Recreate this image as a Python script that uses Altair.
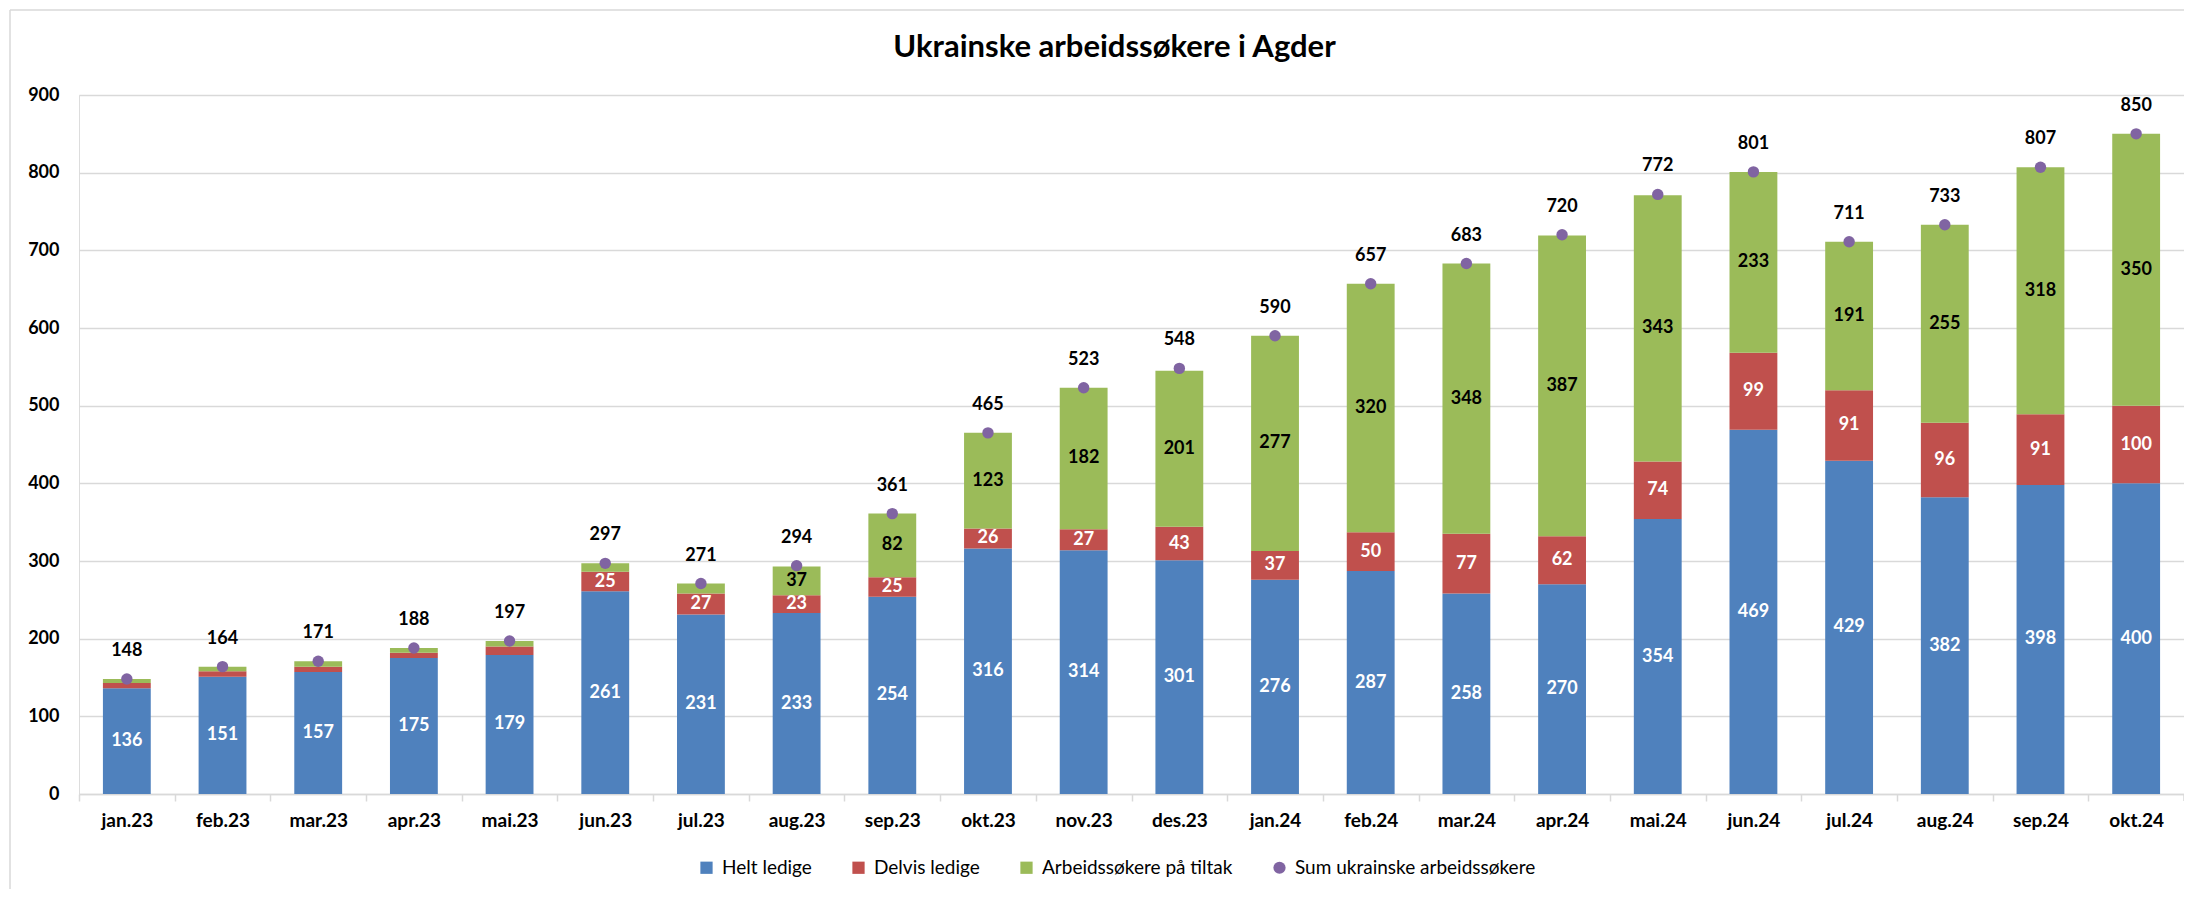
import altair as alt
import pandas as pd

months = ["jan.23", "feb.23", "mar.23", "apr.23", "mai.23", "jun.23", "jul.23", "aug.23",
          "sep.23", "okt.23", "nov.23", "des.23", "jan.24", "feb.24", "mar.24", "apr.24",
          "mai.24", "jun.24", "jul.24", "aug.24", "sep.24", "okt.24"]
helt_ledige = [136, 151, 157, 175, 179, 261, 231, 233, 254, 316, 314, 301, 276, 287, 258, 270,
               354, 469, 429, 382, 398, 400]
delvis_ledige = [7, 7, 7, 7, 11, 25, 27, 23, 25, 26, 27, 43, 37, 50, 77, 62, 74, 99, 91, 96, 91, 100]
tiltak = [5, 6, 7, 6, 7, 11, 13, 37, 82, 123, 182, 201, 277, 320, 348, 387, 343, 233, 191, 255,
          318, 350]
sum_total = [148, 164, 171, 188, 197, 297, 271, 294, 361, 465, 523, 548, 590, 657, 683, 720,
             772, 801, 711, 733, 807, 850]

series_names = ["Helt ledige", "Delvis ledige", "Arbeidssøkere på tiltak",
                "Sum ukrainske arbeidssøkere"]
colors = ["#4F81BD", "#C0504D", "#9BBB59", "#8064A2"]

rows = []
for i, m in enumerate(months):
    base = 0
    for k, (name, vals) in enumerate(zip(series_names[:3], [helt_ledige, delvis_ledige, tiltak])):
        v = vals[i]
        rows.append({"month": m, "series": name, "value": v, "order": k,
                     "mid": base + v / 2})
        base += v
seg = pd.DataFrame(rows)
tot = pd.DataFrame({"month": months, "total": sum_total,
                    "series": [series_names[3]] * len(months)})

W, H = 2105, 699
step = W / 22.0
FONT = "Lato"
GRID = "#D9D9D9"

x_enc = alt.X("month:N", sort=months, title=None,
              scale=alt.Scale(paddingInner=0.5, paddingOuter=0.25),
              axis=alt.Axis(labelFont=FONT, labelFontWeight="bold", labelFontSize=19,
                            labelColor="#000000", labelAngle=0, labelPadding=10,
                            domainColor=GRID, domainWidth=1.5, tickColor=GRID,
                            tickWidth=1.5, tickSize=7, bandPosition=0.5,
                            tickOffset=-step / 2, labelOffset=step / 2, grid=False))
y_scale = alt.Scale(domain=[0, 900], nice=False)
y_axis = alt.Axis(values=list(range(0, 901, 100)), labelFont=FONT, labelFontWeight="bold",
                  labelFontSize=18, labelColor="#000000", labelPadding=20, domain=False,
                  ticks=False, grid=True, gridColor=GRID, gridWidth=1.5)

color_scale = alt.Scale(domain=series_names, range=colors)
shape_scale = alt.Scale(domain=series_names, range=["square", "square", "square", "circle"])
legend = alt.Legend(title=None, orient="none", direction="horizontal", legendX=618,
                    legendY=763, labelFont=FONT, labelFontSize=19, labelColor="#000000",
                    symbolSize=150, symbolStrokeWidth=0, columnPadding=37, labelOffset=6,
                    padding=0, labelLimit=0)

bars = alt.Chart(seg).mark_bar().encode(
    x=x_enc,
    y=alt.Y("value:Q", stack="zero", scale=y_scale, axis=y_axis, title=None),
    order=alt.Order("order:Q"),
    color=alt.Color("series:N", scale=color_scale, legend=legend),
)

seg_labels = alt.Chart(seg).mark_text(font=FONT, fontWeight="bold", fontSize=18,
                                      baseline="middle").encode(
    x=alt.X("month:N", sort=months),
    y=alt.Y("mid:Q"),
    text=alt.Text("value:Q"),
    color=alt.condition(alt.datum.series == "Arbeidssøkere på tiltak",
                        alt.value("#000000"), alt.value("#FFFFFF")),
).transform_filter(alt.datum.value >= 20)

points = alt.Chart(tot).mark_point(filled=True, opacity=1, size=130).encode(
    x=alt.X("month:N", sort=months),
    y=alt.Y("total:Q"),
    color=alt.Color("series:N", scale=color_scale, legend=legend),
    shape=alt.Shape("series:N", scale=shape_scale, legend=legend),
)

tot_labels = alt.Chart(tot).mark_text(font=FONT, fontWeight="bold", fontSize=18,
                                      baseline="middle", dy=-28, color="#000000").encode(
    x=alt.X("month:N", sort=months),
    y=alt.Y("total:Q"),
    text=alt.Text("total:Q"),
)

one = pd.DataFrame({"a": [0]})
end_tick = alt.Chart(one).mark_rule(color=GRID, strokeWidth=1.5).encode(
    x=alt.value(W), y=alt.value(H), y2=alt.value(H + 7))
frame_left = alt.Chart(one).mark_rule(color=GRID, strokeWidth=1.5).encode(
    x=alt.value(-69), y=alt.value(-85), y2=alt.value(H + 120))
frame_top = alt.Chart(one).mark_rule(color=GRID, strokeWidth=1.5).encode(
    x=alt.value(-69), x2=alt.value(W + 20), y=alt.value(-85))

chart = alt.layer(bars, seg_labels, points, tot_labels, end_tick, frame_left, frame_top).properties(
    width=W, height=H,
    title=alt.TitleParams("Ukrainske arbeidssøkere i Agder", font=FONT, fontSize=31,
                          fontWeight="bold", color="#000000", anchor="middle",
                          frame="group", baseline="alphabetic", offset=-79, dx=-17),
    autosize=alt.AutoSizeParams(type="none"),
    padding={"left": 71, "top": 87, "right": 0, "bottom": 95},
).configure_view(stroke=None).configure(background="white")

chart.save("out.html", embed_options={"renderer": "svg", "actions": False})
